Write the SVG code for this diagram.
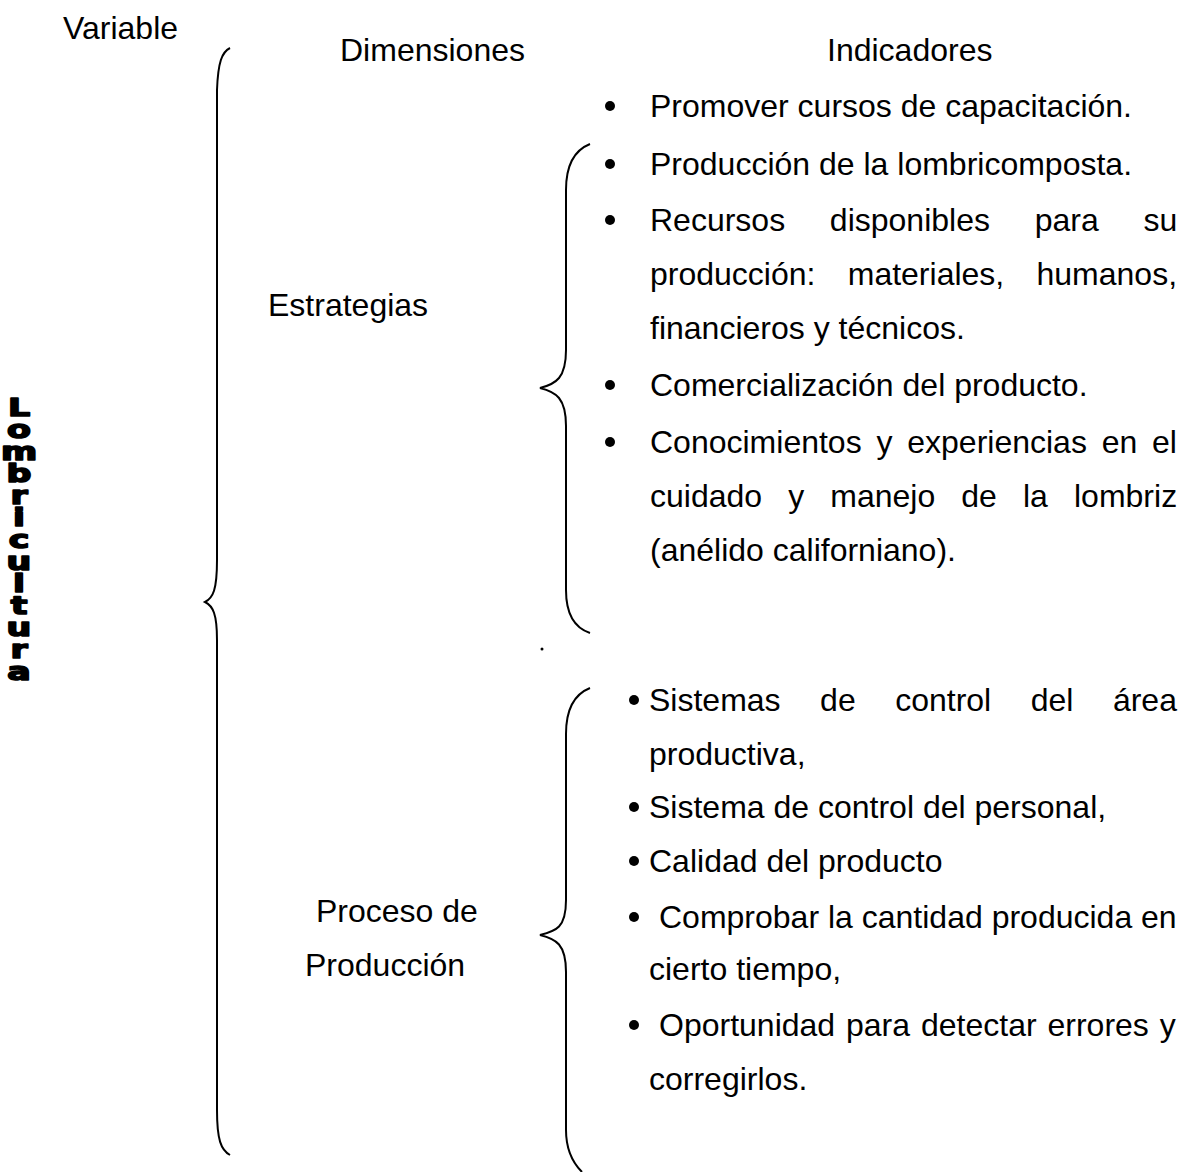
<svg xmlns="http://www.w3.org/2000/svg" width="1189" height="1172" viewBox="0 0 1189 1172">
<style>
.t{font-family:"Liberation Sans",Arial,sans-serif;font-size:32px;fill:#000}
.v{font-family:"DejaVu Sans",sans-serif;font-weight:bold;font-size:24.5px;fill:#000;stroke:#000;stroke-width:1.6;stroke-linejoin:round;writing-mode:vertical-rl;text-orientation:upright;letter-spacing:-6.5px}
.br{fill:none;stroke:#000;stroke-width:2}
.b{fill:#000}
</style>
<rect width="1189" height="1172" fill="#fff"/>
<g id="headers">
<text class="t" x="63" y="39">Variable</text>
<text class="t" x="340" y="61">Dimensiones</text>
<text class="t" x="827" y="61">Indicadores</text>
</g>
<g id="variable" transform="translate(19,0) scale(1.42,1)">
<text class="v" x="0" y="393">Lombricultura</text>
</g>
<g id="connectors">
<path class="br" d="M230,48 C222,52 218,62 217,90 L217,560 C217,590 213,598 205,602 C213,606 217,614 217,640 L217,1110 C217,1140 221,1150 230,1155"/>
<path class="br" d="M590,144 C575,150 566,165 566,190 L566,350 C566,378 556,384 540,388 C556,392 566,398 566,426 L566,590 C566,615 575,628 590,633"/>
<path class="br" d="M590,688 C575,694 566,709 566,734 L566,900 C566,928 556,931 540,935 C556,939 566,944 566,972 L566,1130 C566,1150 572,1162 582,1172"/>
</g>
<g id="dim-estrategias">
<text class="t" x="268" y="316">Estrategias</text>
</g>
<g id="dim-proceso">
<text class="t" x="316" y="922">Proceso de</text>
<text class="t" x="305" y="976">Producción</text>
</g>
<g id="ind-estrategias">
<circle class="b" cx="610" cy="106" r="5"/>
<text class="t" x="650" y="117">Promover cursos de capacitación.</text>
<circle class="b" cx="610" cy="164" r="5"/>
<text class="t" x="650" y="175">Producción de la lombricomposta.</text>
<circle class="b" cx="610" cy="220" r="5"/>
<text class="t" x="650" y="231" word-spacing="35.8">Recursos disponibles para su</text>
<text class="t" x="650" y="285" word-spacing="23.4">producción: materiales, humanos,</text>
<text class="t" x="650" y="339">financieros y técnicos.</text>
<circle class="b" cx="610" cy="385" r="5"/>
<text class="t" x="650" y="396">Comercialización del producto.</text>
<circle class="b" cx="610" cy="442" r="5"/>
<text class="t" x="650" y="453" word-spacing="5.9">Conocimientos y experiencias en el</text>
<text class="t" x="650" y="507" word-spacing="17.2">cuidado y manejo de la lombriz</text>
<text class="t" x="650" y="561">(anélido californiano).</text>
</g>
<circle class="b" cx="542" cy="649" r="1.5"/>
<g id="ind-proceso">
<circle class="b" cx="634" cy="700" r="5"/>
<text class="t" x="649" y="711" word-spacing="30.6">Sistemas de control del área</text>
<text class="t" x="649" y="765">productiva,</text>
<circle class="b" cx="634" cy="807" r="5"/>
<text class="t" x="649" y="818">Sistema de control del personal,</text>
<circle class="b" cx="634" cy="861" r="5"/>
<text class="t" x="649" y="872">Calidad del producto</text>
<circle class="b" cx="634" cy="917" r="5"/>
<text class="t" x="659" y="928">Comprobar la cantidad producida en</text>
<text class="t" x="649" y="980">cierto tiempo,</text>
<circle class="b" cx="634" cy="1025" r="5"/>
<text class="t" x="659" y="1036" word-spacing="2">Oportunidad para detectar errores y</text>
<text class="t" x="649" y="1090">corregirlos.</text>
</g>
</svg>
